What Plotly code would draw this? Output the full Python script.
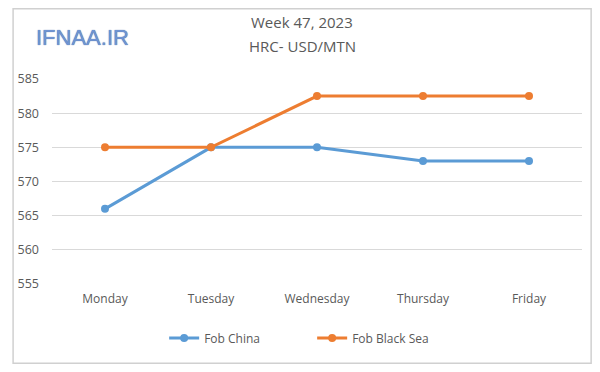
import plotly.graph_objects as go

days = ["Monday", "Tuesday", "Wednesday", "Thursday", "Friday"]
fob_china = [566, 575, 575, 573, 573]
fob_black_sea = [575, 575, 582.5, 582.5, 582.5]
y_ticks = [555, 560, 565, 570, 575, 580, 585]

FONT = "Open Sans"
GREY = "#595959"

# page body has an 8px margin on every side; size the figure so the page fits the window exactly
OFF = 8
W, H = 600 - 2 * OFF, 372 - 2 * OFF
# target plot area in window pixels: x 48..582, y 79..284
L, T = 48 - OFF, 79 - OFF
R = W - (582 - OFF)
B = H - (284 - OFF)
PW, PH = W - L - R, H - T - B


def px_x(x):  # window x -> paper fraction
    return (x - OFF - L) / PW


def px_y(y):  # window y -> paper fraction
    return 1 - (y - OFF - T) / PH


fig = go.Figure()
fig.add_trace(go.Scatter(x=days, y=fob_china, name="Fob China", mode="lines+markers",
                         line=dict(color="#5b9bd5", width=3), marker=dict(size=8, color="#5b9bd5")))
fig.add_trace(go.Scatter(x=days, y=fob_black_sea, name="Fob Black Sea", mode="lines+markers",
                         line=dict(color="#ed7d31", width=3), marker=dict(size=8, color="#ed7d31")))

fig.update_layout(
    width=W, height=H,
    margin=dict(l=L, r=R, t=T, b=B),
    paper_bgcolor="white", plot_bgcolor="white",
    font=dict(family=FONT, size=12, color=GREY),
    showlegend=True,
    legend=dict(orientation="h", x=px_x(161), xanchor="left", y=px_y(338), yanchor="middle",
                font=dict(size=12, color=GREY), itemwidth=30, traceorder="normal",
                entrywidth=103, entrywidthmode="pixels"),
    xaxis=dict(showgrid=False, zeroline=False, showline=False, ticks="",
               tickfont=dict(size=12, color=GREY), range=[-0.5, 4.5], ticklabelstandoff=6),
    yaxis=dict(range=[555, 585], tickvals=y_ticks, showgrid=True, gridcolor="#d9d9d9",
               gridwidth=1, zeroline=False, showline=False, ticks="",
               tickfont=dict(size=12.5, color=GREY), ticklabelstandoff=12),
    shapes=[dict(type="rect", xref="paper", yref="paper", x0=px_x(OFF + 0.8), x1=px_x(600 - OFF - 0.8),
                 y0=px_y(372 - OFF - 0.8), y1=px_y(OFF + 0.8), line=dict(color="#d0d0d0", width=1.5))],
)
fig.add_annotation(text="Week 47, 2023", x=px_x(300), y=px_y(22), xref="paper", yref="paper",
                   showarrow=False, font=dict(size=15, color=GREY, family=FONT),
                   xanchor="center", yanchor="middle")
fig.add_annotation(text="HRC- USD/MTN", x=px_x(300), y=px_y(46), xref="paper", yref="paper",
                   showarrow=False, font=dict(size=15, color=GREY, family=FONT),
                   xanchor="center", yanchor="middle")
fig.add_annotation(text="IFNAA.IR", x=px_x(79), y=px_y(37), xref="paper", yref="paper",
                   showarrow=False,
                   font=dict(size=22, color="#6f94d2", family="Liberation Sans",
                             shadow="0px 0px 1px #2f5597"),
                   yanchor="middle", xanchor="center")

fig.write_html("out.html")
